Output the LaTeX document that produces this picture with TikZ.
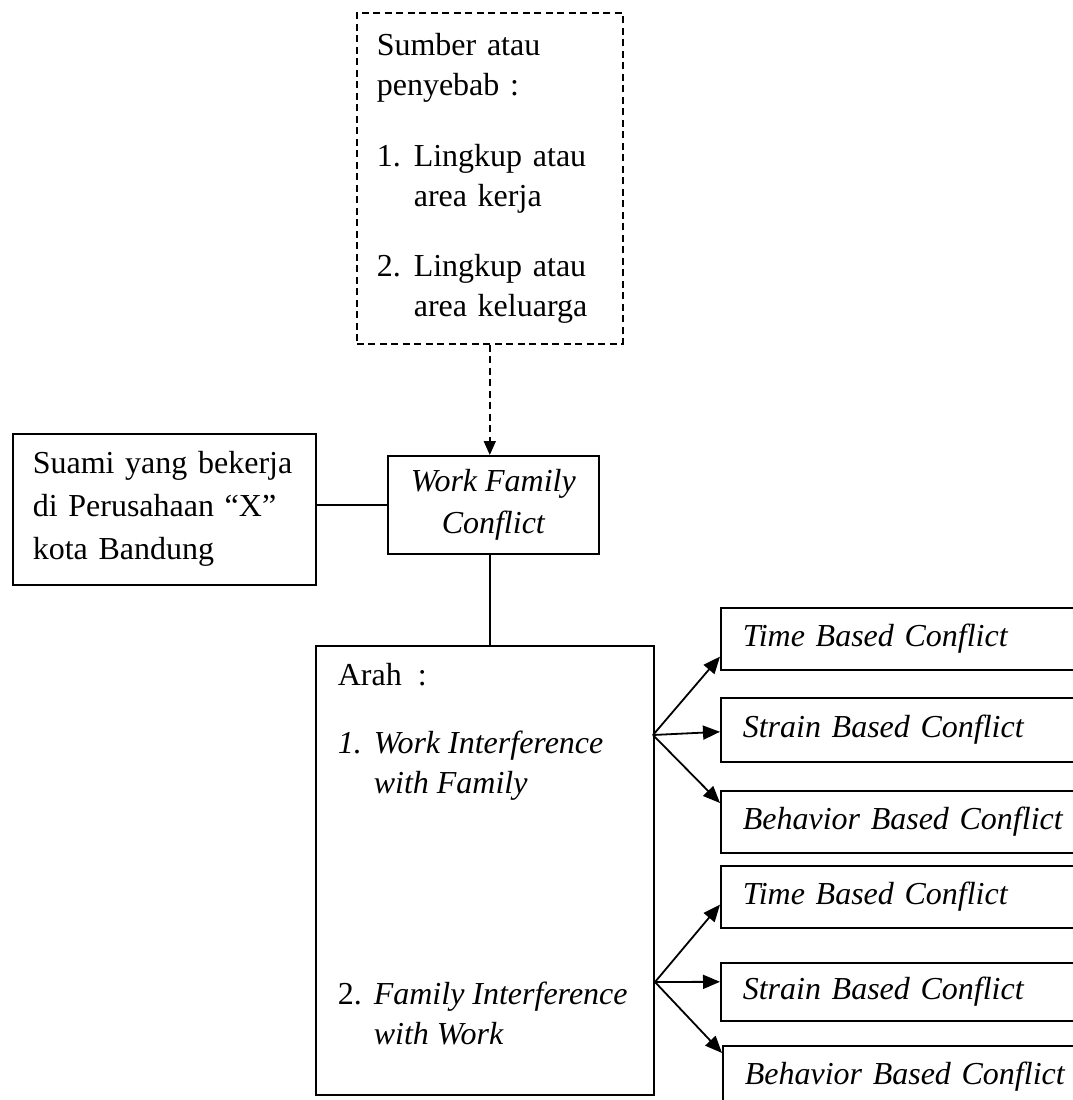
\documentclass[tikz,border=0pt]{standalone}
\usepackage{fontspec}
\setmainfont{Liberation Serif}
\usetikzlibrary{positioning,arrows.meta}

\newcommand{\listno}[2][37pt]{\makebox[#1][l]{#2}}

\begin{document}
\begin{tikzpicture}[
  x=1pt, y=-1pt,
  box/.style={rectangle, draw, line width=1.6pt, anchor=north west, font=\fontsize{32}{40}\selectfont},
  srcbox/.style={box, dash pattern=on 7pt off 4.5pt, align=left, text width=226pt, inner xsep=20pt, minimum width=266pt, minimum height=331pt},
  subjbox/.style={box, align=left, text width=263pt, inner xsep=20pt, minimum width=303pt, minimum height=151pt, font=\fontsize{32}{43}\selectfont},
  wfcbox/.style={box, align=center, minimum width=211pt, minimum height=98pt, font=\fontsize{32}{42}\selectfont\itshape},
  dirbox/.style={box, inner xsep=22pt, inner ysep=0pt, minimum width=338pt},
  typebox/.style={box, align=left, text width=356pt, inner xsep=22pt, minimum height=62pt, font=\fontsize{32}{40}\selectfont\itshape},
  arrow/.style={-{Triangle[length=17pt,width=14pt]}, line width=1.8pt},
  dasharrow/.style={-{Triangle[length=14pt,width=12pt]}, line width=1.8pt, dash pattern=on 7pt off 4.5pt},
  link/.style={line width=1.6pt}
]
\useasboundingbox[fill=white] (0,0) rectangle (1073,1100);
\clip (0,0) rectangle (1073,1100);

% Sources
\node[srcbox] (src) at (356,12) {Sumber atau\\penyebab :\\[31pt]\listno{1.}Lingkup atau\\\hspace*{37pt}area kerja\\[30pt]\listno{2.}Lingkup atau\\\hspace*{37pt}area keluarga};

% Subject and construct
\node[subjbox] (subj) at (12,433) {Suami yang bekerja\\di Perusahaan “X”\\kota Bandung};
\node[wfcbox] (wfc) at (387,455) {Work Family\\Conflict};

% Directions
\node[dirbox] (dir) at (315,645) {\parbox[c][449pt][t]{294pt}{\vspace*{17pt}Arah~~:\\[28pt]\listno[36pt]{\itshape 1.}\textit{Work Interference}\\\hspace*{36pt}\textit{with Family}\\[171pt]\listno[36pt]{2.}\textit{Family Interference}\\\hspace*{36pt}\textit{with Work}}};

% Conflict types
\node[typebox] (time1) at (720,607) {Time Based Conflict};
\node[typebox, minimum height=64pt] (strain1) at (720,697) {Strain Based Conflict};
\node[typebox] (behav1) at (720,790) {Behavior Based Conflict};
\node[typebox] (time2) at (720,865) {Time Based Conflict};
\node[typebox, minimum height=58pt] (strain2) at (720,962) {Strain Based Conflict};
\node[typebox] (behav2) at (722,1045) {Behavior Based Conflict};

\coordinate (wif) at (653,735);
\coordinate (fiw) at (655,982);

% Connectors
\draw[dasharrow] (src.south) -- (src.south |- wfc.north);
\draw[link] (wfc.west) -- (wfc.west -| subj.east);
\draw[link] (src.south |- wfc.south) -- (src.south |- dir.north);

\draw[arrow] (wif) -- ([yshift=14pt]time1.south west);
\draw[arrow] (wif) -- ([yshift=-2pt]strain1.west);
\draw[arrow] (wif) -- ([yshift=-13pt]behav1.north west);
\draw[arrow] (fiw) -- ([yshift=24pt]time2.south west);
\draw[arrow] (fiw) -- ([yshift=10pt]strain2.west);
\draw[arrow] (fiw) -- ([yshift=-8pt]behav2.north west);

\end{tikzpicture}
\end{document}
